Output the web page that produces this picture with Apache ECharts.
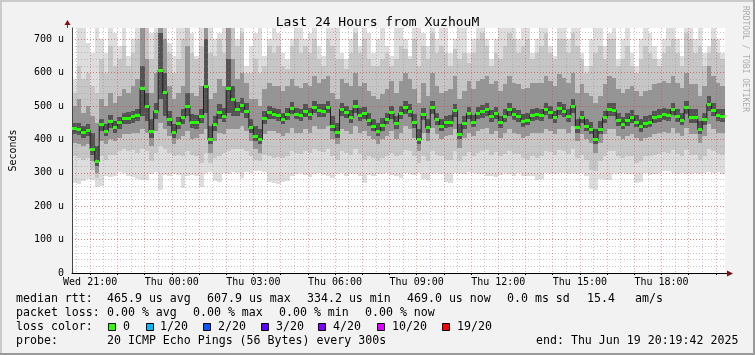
<!DOCTYPE html>
<html><head><meta charset="utf-8">
<script src="https://cdn.jsdelivr.net/npm/echarts@6/dist/echarts.min.js"></script>
<style>html,body{margin:0;padding:0;background:#f2f2f2;}#c{width:755px;height:355px;}</style>
</head><body><div id="c"></div>
<script>
// ---- data (microseconds), one value per 10-minute column starting Wed 20:20 ----
const medianUs = [
432,430,420,427,370,334,445,425,454,436,450,463,
464,468,472,553,500,425,485,608,540,460,420,447,
465,500,452,450,468,560,400,445,480,470,553,520,
490,503,485,435,410,400,464,480,476,473,460,475,
493,476,471,484,475,496,486,484,496,440,420,490,
481,466,498,473,477,457,440,425,442,460,480,447,
478,495,485,450,400,476,435,496,460,440,450,452,
486,415,449,478,452,477,483,489,468,478,450,470,
490,475,468,454,458,473,474,471,490,480,465,492,
485,470,500,435,466,440,430,400,430,465,490,488,
457,446,457,466,452,438,449,452,466,470,475,472,
490,470,458,495,465,465,430,460,506,488,472,469];
const minUs = [
270,268,275,282,280,258,262,290,288,292,303,300,
290,288,282,278,280,298,302,250,295,292,298,295,
255,292,295,290,258,300,302,275,272,300,298,302,
300,285,303,300,305,306,303,272,270,268,272,275,
290,298,300,293,288,298,300,295,290,285,296,300,
292,298,296,290,270,295,292,296,298,300,295,290,
285,300,298,295,300,282,280,298,300,296,272,270,
300,296,298,302,300,298,296,292,290,288,295,300,
298,290,300,292,290,292,280,282,300,298,296,300,
300,298,300,296,300,290,252,250,282,280,278,300,
298,300,298,296,270,272,300,295,298,300,305,305,
300,296,300,298,296,300,298,300,302,300,303,298];
const maxUs = [
580,740,740,690,660,740,700,660,740,720,680,740,
650,700,740,740,740,720,740,740,740,690,650,740,
740,740,720,650,740,740,740,700,720,740,740,740,
700,740,620,680,720,740,650,700,740,720,660,640,
700,740,740,700,720,740,680,650,740,740,740,660,
640,700,740,680,740,720,660,700,740,680,650,740,
740,700,650,740,740,720,680,740,700,740,740,660,
700,740,740,660,700,740,740,700,640,700,740,740,
740,740,700,740,740,660,700,740,740,680,650,740,
740,700,740,740,660,620,700,740,740,680,720,740,
640,700,740,660,620,700,740,720,680,640,700,740,
740,700,650,740,740,700,740,660,680,740,700,660];
const p3Us = [
350,345,340,345,310,285,350,340,355,355,365,370,
365,368,360,370,365,335,360,380,370,360,350,355,
350,365,355,350,330,360,330,345,350,360,365,370,
370,372,365,350,340,335,355,350,345,348,345,350,
365,360,358,365,360,370,365,362,370,350,340,365,
360,355,370,358,340,350,345,335,345,352,360,350,
355,368,365,350,330,350,335,365,355,350,340,338,
365,335,350,362,352,360,365,368,355,362,350,358,
365,358,356,345,340,350,345,350,365,362,355,368,
365,358,370,345,355,340,310,305,335,350,365,365,
350,345,352,350,330,335,350,350,355,358,362,360,
368,358,352,368,355,355,340,352,372,365,358,355];
const p18Us = [
540,620,580,600,560,540,640,600,680,620,640,680,
620,660,700,740,740,640,720,740,740,660,600,640,
700,740,660,640,680,740,660,650,700,660,740,740,
680,720,600,600,640,600,620,680,660,680,620,610,
680,700,660,680,660,700,640,620,700,680,640,640,
610,660,720,660,700,640,620,620,640,660,620,640,
680,670,640,700,620,680,640,720,660,680,660,620,
670,640,660,630,660,700,720,680,620,660,640,680,
720,700,660,680,700,640,660,680,720,660,640,700,
700,660,720,680,640,600,620,660,680,640,700,700,
620,640,680,620,600,640,680,660,640,620,660,680,
700,660,620,720,700,660,680,620,660,700,660,640];
const p6Us = [
390,385,380,385,335,300,395,385,400,395,405,415,
415,420,420,430,420,380,425,450,430,410,385,400,
410,425,400,405,415,430,360,395,420,415,430,430,
430,440,425,395,370,360,415,425,425,420,410,420,
435,420,420,430,420,440,430,430,440,400,385,430,
425,415,440,420,425,410,400,385,400,410,425,400,
420,440,430,405,365,420,395,435,415,400,410,412,
430,375,405,420,410,425,430,435,415,425,405,420,
430,420,415,405,410,420,420,418,430,425,415,432,
430,418,440,395,415,400,390,360,390,415,430,432,
410,400,410,415,405,395,405,408,415,420,422,420,
435,420,410,435,415,415,390,410,445,430,420,418];
const p15Us = [
500,520,480,500,470,450,520,500,540,510,530,550,
540,560,580,740,640,540,600,740,700,560,520,540,
560,680,540,530,560,740,520,540,580,560,740,640,
580,600,570,520,520,500,550,570,560,560,545,560,
580,560,555,570,560,590,570,580,590,540,520,580,
570,560,600,560,570,545,530,520,535,550,575,540,
575,600,580,550,510,570,530,600,560,540,545,550,
590,520,545,575,550,575,580,590,565,575,545,565,
590,570,565,550,555,570,570,568,590,575,560,595,
585,568,600,540,565,540,530,510,530,565,590,585,
550,540,550,560,545,530,545,548,565,570,575,570,
590,570,555,600,565,565,530,560,620,590,570,560];
const p9Us = [
415,412,405,410,355,320,425,410,435,420,432,445,
445,450,455,470,455,405,460,520,470,440,405,430,
445,470,435,432,450,480,385,425,460,452,480,470,
470,480,465,418,395,385,445,462,460,456,445,458,
475,460,455,466,458,478,468,466,478,425,405,470,
463,450,478,456,460,440,425,410,425,445,462,432,
460,476,468,435,385,458,420,476,444,425,435,437,
466,400,432,460,436,460,465,470,452,460,435,453,
470,458,452,438,442,456,458,455,472,462,450,472,
468,453,480,420,450,425,415,385,415,448,470,470,
440,430,440,450,436,422,433,436,450,453,458,456,
472,453,442,475,448,448,415,444,485,470,456,452];
const p12Us = [
450,448,440,445,420,380,462,445,472,455,468,480,
482,486,490,620,540,460,510,720,600,485,445,468,
490,540,475,472,490,700,440,470,505,495,640,560,
512,525,508,460,440,430,486,500,495,492,480,495,
512,495,490,505,495,515,505,505,515,470,450,510,
500,488,518,495,498,478,462,450,465,480,500,470,
500,515,505,475,430,495,460,515,480,462,470,472,
505,445,470,498,472,496,502,508,488,497,470,490,
510,495,488,475,478,492,494,491,510,500,485,512,
505,490,520,460,485,462,452,430,455,485,510,508,
478,468,478,487,472,460,470,472,486,490,495,492,
510,490,480,515,490,490,455,480,530,510,492,490];

const tickLabels = ['Wed 21:00','Thu 00:00','Thu 03:00','Thu 06:00','Thu 09:00','Thu 12:00','Thu 15:00','Thu 18:00'];
const lossLabels = ['0','1/20','2/20','3/20','4/20','10/20','19/20'];
const lossColors = ['#26ff00','#00b8ff','#0059ff','#5e00ff','#7e00ff','#dd00ff','#ff0000'];
const bandColors = ['#dddddd','#c6c6c6','#959595','#535353'];

// ---- axis helpers ----
const START_MIN = 20*60 + 20;   // Wed 20:20
const SPAN = 1440, COL = 10, Y_MAX = 734;
const cats = [];
for (let i = 0; i <= SPAN; i++) {
  const t = START_MIN + i;
  const d = t >= 1440 ? 'Thu' : 'Wed';
  const hh = Math.floor((t % 1440) / 60), mm = t % 60;
  cats.push(d + ' ' + String(hh).padStart(2,'0') + ':' + String(mm).padStart(2,'0'));
}
const isHour = (i, v) => v.endsWith(':00');
const isHalf = (i, v) => v.endsWith(':30');
const isLabel = (i, v) => tickLabels.indexOf(v) >= 0;

const smoke = medianUs.map((m, j) => [j*COL, (j+1)*COL, minUs[j], maxUs[j], p3Us[j], p18Us[j], p6Us[j], p15Us[j], p9Us[j], p12Us[j]]);
const medRows = medianUs.map((m, j) => [j*COL, (j+1)*COL, m]);
const medLine = medianUs.map((m, j) => [j*COL, m]);
medLine.push([SPAN, medianUs[medianUs.length-1]]);

const MONO = '"DejaVu Sans Mono", monospace';
const red = 'rgba(240,32,32,0.42)', gray = 'rgba(143,143,143,0.5)';
const L = 67, T = 28, W = 658, H = 245;

const legendFont = '11.6px ' + MONO;
function txt(s, x, y) {
  return {type:'text', x:x, y:y, style:{text:s, font:legendFont, fill:'#000', align:'left', verticalAlign:'middle', textAlign:'left', textVerticalAlign:'middle'}, z:10};
}
const gfx = [
  {type:'rect', shape:{x:0,y:0,width:755,height:2}, style:{fill:'#cbcbcb'}},
  {type:'rect', shape:{x:0,y:0,width:2,height:355}, style:{fill:'#cbcbcb'}},
  {type:'rect', shape:{x:0,y:353,width:755,height:2}, style:{fill:'#999999'}},
  {type:'rect', shape:{x:753,y:0,width:2,height:355}, style:{fill:'#999999'}},
  {type:'line', shape:{x1:L+0.5,y1:T,x2:L+0.5,y2:T-4}, style:{stroke:'#444',lineWidth:1}, z:10},
  {type:'polygon', shape:{points:[[L+0.5,T-8],[L-2.5,T-3],[L+3.5,T-3]]}, style:{fill:'#7f1010'}, z:10},
  {type:'line', shape:{x1:L+W,y1:T+H+0.5,x2:L+W+3,y2:T+H+0.5}, style:{stroke:'#000',lineWidth:1}, z:10},
  {type:'polygon', shape:{points:[[L+W+8,T+H+0.5],[L+W+2,T+H-2.5],[L+W+2,T+H+3.5]]}, style:{fill:'#7f1010'}, z:10},
  {type:'text', x:745, y:59, rotation:-Math.PI/2, style:{text:'RRDTOOL / TOBI OETIKER', font:'8px '+MONO, fill:'#adadad', align:'center', verticalAlign:'middle', textAlign:'center', textVerticalAlign:'middle'}},
  txt('median rtt:', 16, 299), txt('465.9 us avg', 107, 299), txt('607.9 us max', 207, 299),
  txt('334.2 us min', 307, 299), txt('469.0 us now', 407, 299), txt('0.0 ms sd', 507, 299),
  txt('15.4', 587, 299), txt('am/s', 635, 299),
  txt('packet loss:', 16, 313), txt('0.00 % avg', 107, 313), txt('0.00 % max', 193, 313),
  txt('0.00 % min', 279, 313), txt('0.00 % now', 365, 313),
  txt('loss color:', 16, 327),
  txt('probe:', 16, 341), txt('20 ICMP Echo Pings (56 Bytes) every 300s', 107, 341),
  txt('end: Thu Jun 19 20:19:42 2025', 536, 341)
];
const boxX = [108, 145.5, 203, 261, 318, 377, 442];
const labX = [123, 160, 218, 276, 333, 392, 457];
lossLabels.forEach((lab, k) => {
  gfx.push({type:'rect', shape:{x:Math.round(boxX[k])+0.5, y:323.5, width:7, height:7}, style:{fill:lossColors[k], stroke:'#000', lineWidth:1}, z:10});
  gfx.push(txt(lab, labX[k], 327));
});

const chart = echarts.init(document.getElementById('c'), null, {renderer:'canvas'});
chart.setOption({
  backgroundColor:'#f2f2f2',
  animation:false,
  title:{text:'Last 24 Hours from XuzhouM', left:'center', top:11, textStyle:{fontFamily:MONO, fontSize:13, fontWeight:'normal', color:'#000'}},
  grid:{left:L, top:T, width:W, height:H, show:true, backgroundColor:'#ffffff', borderWidth:0},
  xAxis:[
    {type:'value', min:0, max:SPAN, show:false},
    {type:'category', data:cats, boundaryGap:false, position:'bottom', z:4,
     axisLine:{show:true, lineStyle:{color:'#000', width:1}},
     axisTick:{show:true, interval:isHour, length:2, lineStyle:{color:'#000'}},
     axisLabel:{interval:isLabel, fontFamily:MONO, fontSize:10, color:'#000', margin:4},
     splitLine:{show:true, interval:isHour, lineStyle:{color:red, width:1, type:[1,2]}}},
    {type:'category', data:cats, boundaryGap:false, position:'top', z:3,
     axisLine:{show:false}, axisTick:{show:false}, axisLabel:{show:false},
     splitLine:{show:true, interval:isHalf, lineStyle:{color:gray, width:1, type:[1,2]}}}
  ],
  yAxis:[
    {type:'value', min:0, max:Y_MAX, interval:100, z:4,
     name:'Seconds', nameLocation:'middle', nameRotate:90, nameGap:54,
     nameTextStyle:{fontFamily:MONO, fontSize:10, color:'#000'},
     axisLine:{show:true, lineStyle:{color:'#444'}}, axisTick:{show:false},
     axisLabel:{fontFamily:MONO, fontSize:10, color:'#000', margin:8, showMaxLabel:false,
       formatter:v => v === 0 ? '0' : v + ' u'},
     splitLine:{show:true, showMaxLine:false, showMinLine:false, lineStyle:{color:red, width:1, type:[1,2]}}},
    {type:'value', min:0, max:Y_MAX, interval:20, z:3, position:'right',
     axisLine:{show:false}, axisTick:{show:false}, axisLabel:{show:false},
     splitLine:{show:true, showMaxLine:false, showMinLine:false, lineStyle:{color:gray, width:1, type:[1,2]}}}
  ],
  series:[
    {type:'custom', name:'smoke', xAxisIndex:0, yAxisIndex:0, z:2, clip:true, data:smoke,
     encode:{x:[0,1], y:[2,3]},
     renderItem:function(params, api){
       const x0 = api.value(0), x1 = api.value(1);
       const children = [];
       for (let b = 0; b < bandColors.length; b++) {
         const lo = api.value(2+2*b), hi = Math.min(api.value(3+2*b), Y_MAX);
         const a = api.coord([x0, lo]), c = api.coord([x1, hi]);
         const xa = Math.round(a[0]), xb = Math.round(c[0]);
         const ya = Math.round(c[1]), yb = Math.round(a[1]);
         children.push({type:'rect', shape:{x:xa, y:ya, width:xb-xa, height:yb-ya}, style:{fill:bandColors[b]}});
       }
       return {type:'group', children:children};
     }},
    {type:'line', name:'median', xAxisIndex:0, yAxisIndex:0, z:5, data:medLine, step:'end',
     symbol:'none', lineStyle:{color:'#202020', width:1}},
    {type:'custom', name:'loss', xAxisIndex:0, yAxisIndex:0, z:6, data:medRows,
     encode:{x:[0,1], y:2},
     renderItem:function(params, api){
       const a = api.coord([api.value(0), api.value(2)]), c = api.coord([api.value(1), api.value(2)]);
       const xa = Math.round(a[0]), xb = Math.round(c[0]);
       return {type:'rect', shape:{x:xa, y:Math.round(a[1]-1.5), width:xb-xa, height:3}, style:{fill:lossColors[0]}};
     }}
  ],
  graphic:gfx
});
</script></body></html>
